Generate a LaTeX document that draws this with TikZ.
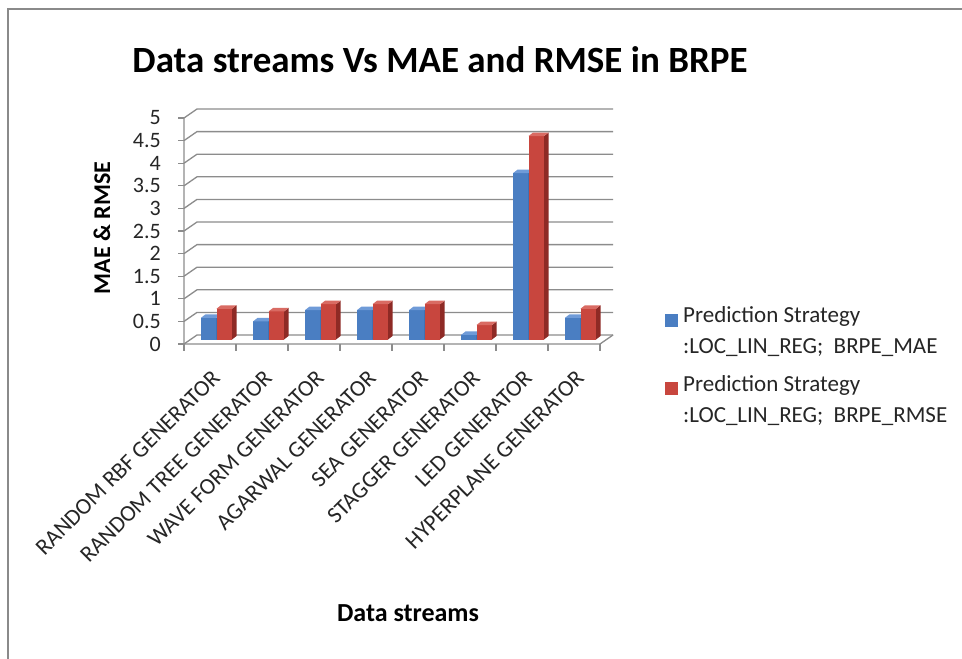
\documentclass[tikz,border=0pt]{standalone}
\usepackage{fontspec}
\setmainfont{Carlito}
\definecolor{gridgray}{HTML}{8C8C8C}
\definecolor{framegray}{HTML}{8A8A8A}
\definecolor{bluefront}{HTML}{4A7EC2}
\definecolor{blueside}{HTML}{2E5A95}
\definecolor{bluetop}{HTML}{6F9BD8}
\definecolor{redfront}{HTML}{C8463E}
\definecolor{redside}{HTML}{8E2A25}
\definecolor{redtop}{HTML}{D96B63}
\definecolor{textgray}{HTML}{262626}
\newcommand{\mybar}[6]{%
  \pgfmathsetmacro\ytop{339.5-#3*45.2}%
  \fill[#4] (#1,339.5) rectangle (#2,\ytop);
  \fill[#5] (#2,339.5) -- (#2+4.5,336) -- (#2+4.5,\ytop-3.5) -- (#2,\ytop) -- cycle;
  \fill[#6] (#1,\ytop) -- (#1+4.5,\ytop-3.5) -- (#2+4.5,\ytop-3.5) -- (#2,\ytop) -- cycle;
}
\begin{document}
\begin{tikzpicture}[x=1pt,y=-1pt,
  grid/.style={draw=gridgray,line width=1.3pt},
  ticklab/.style={anchor=east,inner sep=0pt,text=textgray,font=\fontsize{22}{26}\selectfont},
  catlab/.style={anchor=east,rotate=45,inner sep=0pt,text height=0.65em,text depth=0pt,text=textgray,font=\fontsize{23}{27}\selectfont},
  leglab/.style={anchor=west,inner sep=0pt,text height=0.7em,text depth=0.2em,text=textgray,font=\fontsize{23}{27}\selectfont},
  axtitle/.style={inner sep=0pt,text=black,font=\fontsize{26}{30}\selectfont\bfseries}]
\useasboundingbox (0,0) rectangle (962,659);
\fill[white] (0,0) rectangle (962,659);
\begin{scope}
  \clip (0,0) rectangle (962,659);
  \draw[framegray,line width=2pt] (8,9) rectangle (990,690);
\end{scope}
% title
\node[inner sep=0pt,anchor=base,font=\fontsize{37}{44}\selectfont\bfseries] (title) at (440,72) {Data streams Vs MAE and RMSE in BRPE};
% gridlines
\foreach \i in {0,...,10}{
  \pgfmathsetmacro\yf{344-\i*22.6}
  \pgfmathsetmacro\yb{335-\i*22.6}
  \draw[grid] (184,\yf) -- (197,\yb) -- (613,\yb);
  \draw[grid] (178,\yf) -- (184,\yf);
}
\foreach \v/\i in {0/0,0.5/1,1/2,1.5/3,2/4,2.5/5,3/6,3.5/7,4/8,4.5/9,5/10}{
  \pgfmathsetmacro\yf{344-\i*22.6}
  \node[ticklab] (yl\i) at (161,\yf) {\v};
}
\draw[grid] (184,118) -- (184,344) -- (600,344) -- (613,335);
\foreach \k in {0,...,8}{
  \draw[grid] (184+52*\k,344) -- (184+52*\k,351);
}
% bars
\foreach \k/\b/\r/\name in {0/0.48/0.68/RANDOM RBF GENERATOR,1/0.40/0.62/RANDOM TREE GENERATOR,2/0.65/0.78/WAVE FORM GENERATOR,3/0.65/0.78/AGARWAL GENERATOR,4/0.65/0.78/SEA GENERATOR,5/0.10/0.32/STAGGER GENERATOR,6/3.68/4.50/LED GENERATOR,7/0.48/0.68/HYPERPLANE GENERATOR}{
  \pgfmathsetmacro\c{210+52*\k}
  \pgfmathsetmacro\xa{\c-9}
  \pgfmathsetmacro\xb{\c+6.5}
  \pgfmathsetmacro\xc{\c+22}
  \mybar{\xa}{\xb}{\b}{bluefront}{blueside}{bluetop}
  \mybar{\xb}{\xc}{\r}{redfront}{redside}{redtop}
  \node[catlab] (cl\k) at (\c+9,377) {\name};
}
% axis titles
\node[axtitle] (xtitle) at (408,613) {Data streams};
\node[axtitle,rotate=90,font=\fontsize{24}{28}\selectfont\bfseries] (ytitle) at (102,228) {MAE \& RMSE};
% legend
\fill[bluefront] (665,314) rectangle (678,327);
\node[leglab] (lega) at (683,320) {Prediction Strategy};
\node[leglab] (legb) at (683,351) {:LOC\_LIN\_REG;\ \ BRPE\_MAE};
\fill[redfront] (665,382) rectangle (678,395);
\node[leglab] (legc) at (683,389) {Prediction Strategy};
\node[leglab] (legd) at (683,420) {:LOC\_LIN\_REG;\ \ BRPE\_RMSE};
\end{tikzpicture}
\end{document}
